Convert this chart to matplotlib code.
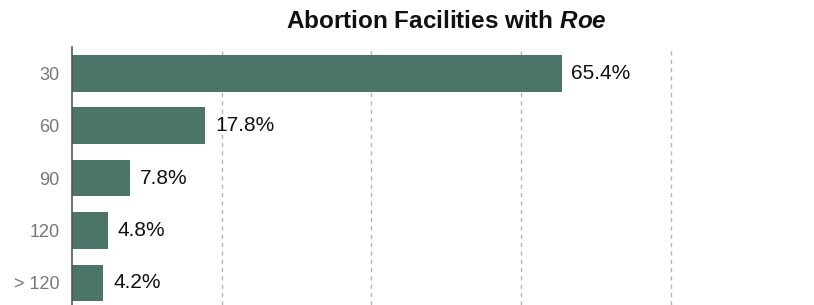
import numpy as np
import matplotlib.pyplot as plt

# data
categories = ['30', '60', '90', '120', '> 120']
values = [65.4, 17.8, 7.8, 4.8, 4.2]
grid_ticks = [20, 40, 60, 80]

plt.rcParams['font.family'] = ['Liberation Sans', 'DejaVu Sans']
plt.rcParams['mathtext.fontset'] = 'custom'
plt.rcParams['mathtext.it'] = 'Liberation Sans:italic:bold'
plt.rcParams['mathtext.rm'] = 'Liberation Sans:bold'

fig = plt.figure(figsize=(8.14, 3.05), dpi=100)
ax = fig.add_axes([72 / 814, 0.0, 1 - 72 / 814, 1 - 47 / 305])

y = np.arange(len(categories))
bars = ax.barh(y, values, height=0.7, color='#4b7569', zorder=2)

for b, v in zip(bars, values):
    ax.text(b.get_width() + 1.3, b.get_y() + b.get_height() / 2, f'{v}%',
            va='center', ha='left', fontsize=15, color='#111111', zorder=3)

ax.set_xlim(0, 99.1)
ax.set_ylim(4.42, -0.5)
ax.set_yticks(y)
ax.set_yticklabels(categories, fontsize=13, color='#777777')
ax.set_xticks(grid_ticks)
ax.tick_params(axis='x', length=0, labelbottom=False)
ax.tick_params(axis='y', length=0, pad=9)
ax.grid(axis='x', linestyle=(0, (3, 3)), color='#b5b5b5', linewidth=1, zorder=1)

for s in ['top', 'right', 'bottom']:
    ax.spines[s].set_visible(False)
ax.spines['left'].set_color('#555555')
ax.spines['left'].set_linewidth(1.2)

fig.text(446 / 814, 1 - 22 / 305, 'Abortion Facilities with $\\it{Roe}$',
         ha='center', va='center', fontsize=17.5, fontweight='bold', color='#111111')

fig.savefig('out.png', dpi=100)
